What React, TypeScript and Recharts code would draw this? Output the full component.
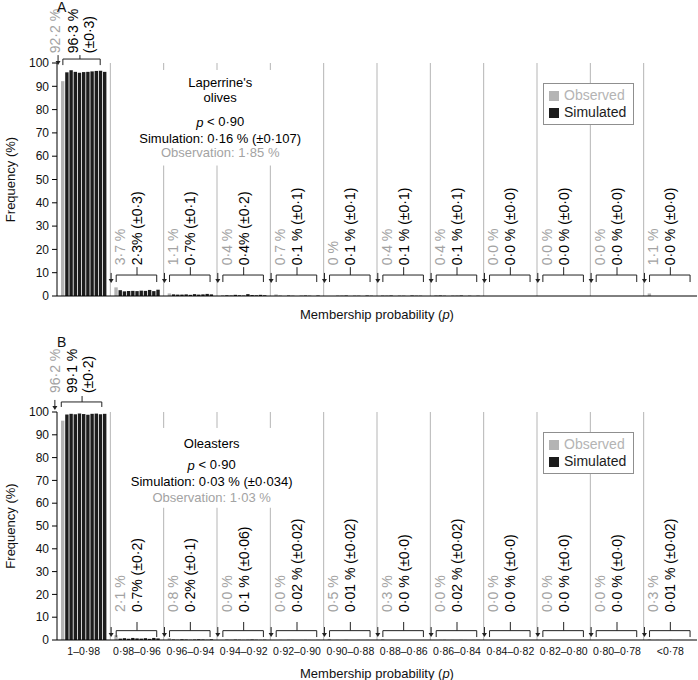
import React from "react";
import {
  Bar,
  BarChart,
  Legend,
  ReferenceDot,
  ReferenceLine,
  XAxis,
  YAxis,
} from "recharts";

const FONT = '"Liberation Sans", Arial, Helvetica, sans-serif';
const OBS_BAR = "#b4b4b4";
const OBS_TEXT = "#a3a3a3";
const SIM_BAR = "#1c1c1c";
const RULE = "#b5b5b5";
const INK = "#222";

const GROUPS = [
  "1–0·98",
  "0·98–0·96",
  "0·96–0·94",
  "0·94–0·92",
  "0·92–0·90",
  "0·90–0·88",
  "0·88–0·86",
  "0·86–0·84",
  "0·84–0·82",
  "0·82–0·80",
  "0·80–0·78",
  "<0·78",
];
const X_TICKS = GROUPS.map((_, i) => i + 0.5);
const Y_TICKS = [0, 10, 20, 30, 40, 50, 60, 70, 80, 90, 100];

// panel A: Laperrine's olives
const A_OBS = [92.2, 3.7, 1.1, 0.4, 0.7, 0, 0.4, 0.4, 0, 0, 0, 1.1];
const A_SIM = [
  [96.0, 96.9, 96.2, 95.8, 96.1, 96.2, 96.4, 96.6, 96.7, 96.2],
  [2.5, 2.0, 2.1, 2.2, 2.1, 2.3, 2.2, 2.6, 2.1, 2.7],
  [0.7, 0.6, 0.6, 0.7, 0.5, 0.8, 0.6, 0.7, 0.9, 0.7],
  [0.3, 0.2, 0.5, 0.3, 0.2, 0.8, 0.4, 0.3, 0.5, 0.3],
  [0.1, 0, 0.2, 0.1, 0, 0.1, 0.2, 0.1, 0, 0.2],
  [0, 0.1, 0.1, 0.2, 0, 0.1, 0.1, 0, 0.2, 0.1],
  [0.1, 0.2, 0, 0.1, 0.1, 0, 0.2, 0.1, 0.1, 0],
  [0.2, 0.1, 0, 0.1, 0.1, 0.2, 0, 0.1, 0, 0.1],
  [0, 0, 0, 0, 0, 0, 0, 0, 0, 0],
  [0, 0, 0, 0, 0, 0, 0, 0, 0, 0],
  [0, 0, 0, 0, 0, 0, 0, 0, 0, 0],
  [0, 0, 0, 0, 0, 0, 0, 0, 0, 0],
];
const A_OBS_LABELS = ["92·2 %", "3·7 %", "1·1 %", "0·4 %", "0·7 %", "0 %", "0·4 %", "0·4 %", "0·0 %", "0·0 %", "0·0 %", "1·1 %"];
const A_SIM_LABELS = ["96·3 %", "2·3%", "0·7%", "0·4%", "0·1 %", "0·1 %", "0·1 %", "0·1 %", "0·0 %", "0·0 %", "0·0 %", "0·0 %"];
const A_SIM_SD = ["(±0·3)", "(±0·3)", "(±0·1)", "(±0·2)", "(±0·1)", "(±0·1)", "(±0·1)", "(±0·1)", "(±0·0)", "(±0·0)", "(±0·0)", "(±0·0)"];

// panel B: oleasters
const B_OBS = [96.2, 2.1, 0.8, 0, 0, 0.5, 0.3, 0, 0, 0, 0, 0.3];
const B_SIM = [
  [98.9, 99.2, 99.0, 99.3, 99.1, 98.8, 99.2, 99.3, 99.0, 99.2],
  [0.6, 0.8, 0.5, 0.9, 0.7, 0.6, 0.8, 0.5, 0.9, 0.7],
  [0.2, 0.1, 0.3, 0.2, 0.1, 0.2, 0.3, 0.2, 0.1, 0.3],
  [0.1, 0.05, 0.15, 0.1, 0.05, 0.1, 0.2, 0.1, 0.05, 0.1],
  [0.02, 0, 0.04, 0.02, 0, 0.02, 0.04, 0.02, 0, 0.04],
  [0, 0.02, 0, 0.04, 0, 0, 0.02, 0, 0.02, 0],
  [0, 0, 0, 0, 0, 0, 0, 0, 0, 0],
  [0.02, 0.04, 0, 0.02, 0, 0.04, 0.02, 0, 0.02, 0.04],
  [0, 0, 0, 0, 0, 0, 0, 0, 0, 0],
  [0, 0, 0, 0, 0, 0, 0, 0, 0, 0],
  [0, 0, 0, 0, 0, 0, 0, 0, 0, 0],
  [0, 0.02, 0, 0, 0.04, 0, 0.02, 0, 0, 0.02],
];
const B_OBS_LABELS = ["96·2 %", "2·1 %", "0·8 %", "0·0 %", "0·0 %", "0·5 %", "0·3 %", "0·0 %", "0·0 %", "0·0 %", "0·0 %", "0·3 %"];
const B_SIM_LABELS = ["99·1 %", "0·7%", "0·2%", "0·1 %", "0·02 %", "0·01 %", "0·0 %", "0·02 %", "0·0 %", "0·0 %", "0·0 %", "0·01 %"];
const B_SIM_SD = ["(±0·2)", "(±0·2)", "(±0·1)", "(±0·06)", "(±0·02)", "(±0·02)", "(±0·0)", "(±0·02)", "(±0·0)", "(±0·0)", "(±0·0)", "(±0·02)"];

const SIM_KEYS = ["s1", "s2", "s3", "s4", "s5", "s6", "s7", "s8", "s9", "s10"];

function rows(obs: number[], sim: number[][]) {
  return obs.map((o, i) => {
    const r: Record<string, number> = { x: i + 0.5, obs: o };
    SIM_KEYS.forEach((k, j) => (r[k] = sim[i][j]));
    return r;
  });
}

// annotation placement, in data units (x: group index, y: %)
type Anno = {
  bracketY: number;
  hookY: number;
  tickY: number;
  textY: number;
  arrowY: number;
  first: {
    bracketY: number;
    hookY: number;
    tickY: number;
    textY: number;
    arrowY: number;
    arrowX: number;
    greyX: number;
    blackX: [number, number];
    l: number;
    r: number;
    mid: number;
  };
  boxX: number;
  box: [number, number];
};

const A_ANNO: Anno = {
  bracketY: 9,
  hookY: 6,
  tickY: 12.4,
  textY: 13.2,
  arrowY: 5.6,
  first: { bracketY: 101.7, hookY: 99.1, tickY: 103.4, textY: 104.2, arrowY: 99.1, arrowX: 0.02, greyX: -0.04, blackX: [0.3, 0.6], l: 0.11, r: 0.81, mid: 0.43 },
  boxX: 3.06,
  box: [56, 97],
};
const B_ANNO: Anno = {
  bracketY: 4.1,
  hookY: 1.3,
  tickY: 7.9,
  textY: 12.3,
  arrowY: 1.3,
  first: { bracketY: 104.4, hookY: 102.2, tickY: 107, textY: 108.3, arrowY: 100.9, arrowX: -0.04, greyX: -0.04, blackX: [0.28, 0.58], l: 0.08, r: 0.84, mid: 0.47 },
  boxX: 2.9,
  box: [58, 93],
};

const upText = (label: string, color: string) => (p: any) => (
  <text
    x={p.cx}
    y={p.cy}
    transform={`rotate(-90 ${p.cx} ${p.cy})`}
    textAnchor="start"
    dominantBaseline="central"
    fontSize={14}
    fontFamily={FONT}
    fill={color}
  >
    {label}
  </text>
);

const arrowShape = (p: any) => (
  <g>
    <line x1={p.cx} x2={p.cx} y1={p.cy - 10} y2={p.cy - 3} stroke={INK} strokeWidth={1} />
    <path d={`M${p.cx - 2.5},${p.cy - 4}L${p.cx + 2.5},${p.cy - 4}L${p.cx},${p.cy}Z`} fill={INK} />
  </g>
);

const centred = (content: React.ReactNode, color: string) => (p: any) => (
  <text x={p.cx} y={p.cy} textAnchor="middle" dominantBaseline="central" fontSize={13} fontFamily={FONT} fill={color}>
    {content}
  </text>
);

function seg(key: string, a: [number, number], b: [number, number], stroke = INK) {
  return (
    <ReferenceLine
      key={key}
      segment={[{ x: a[0], y: a[1] }, { x: b[0], y: b[1] }]}
      stroke={stroke}
      strokeWidth={1}
      ifOverflow="visible"
    />
  );
}

function bracket(key: string, l: number, r: number, mid: number, y: number, hook: number, top: number) {
  return [
    seg(`${key}-h`, [l, y], [r, y]),
    seg(`${key}-l`, [l, y], [l, hook]),
    seg(`${key}-r`, [r, y], [r, hook]),
    seg(`${key}-m`, [mid, y], [mid, top]),
  ];
}

function dot(key: string, x: number, y: number, shape: any) {
  return <ReferenceDot key={key} x={x} y={y} r={0} ifOverflow="visible" shape={shape} />;
}

function LegendBox({ payload }: any) {
  const items = (payload ?? []).filter((e: any) => e.type !== "none");
  return (
    <div
      style={{
        border: "1px solid #8f8f8f",
        background: "#fff",
        padding: "3px 7px 3px 5px",
        fontFamily: FONT,
        fontSize: 14,
        lineHeight: "17px",
        whiteSpace: "nowrap",
      }}
    >
      {items.map((e: any) => (
        <div key={e.value} style={{ display: "flex", alignItems: "center", color: e.color }}>
          <span style={{ width: 10, height: 10, background: e.color, marginRight: 5, display: "inline-block" }} />
          {e.value}
        </div>
      ))}
    </div>
  );
}

const xTitle = (dy: number) => (props: any) => {
  const vb = props.viewBox ?? {};
  return (
    <text x={vb.x + vb.width / 2} y={vb.y + dy} textAnchor="middle" dominantBaseline="central" fontSize={13} fontFamily={FONT} fill="#111">
      Membership probability (<tspan fontStyle="italic">p</tspan>)
    </text>
  );
};

type PanelProps = {
  obs: number[];
  sim: number[][];
  obsLabels: string[];
  simLabels: string[];
  simSd: string[];
  anno: Anno;
  centre: { text: React.ReactNode; y: number; grey?: boolean }[];
  height: number;
  top: number;
  bottom: number;
  showTicks: boolean;
  titleDy: number;
  legendTop: number;
};

function Panel(p: PanelProps) {
  const a = p.anno;
  const f = a.first;
  const data = rows(p.obs, p.sim);
  const extras: React.ReactNode[] = [];

  // group separators, interrupted behind the centred caption
  for (let k = 1; k < GROUPS.length; k++) {
    if (k >= 2 && k <= 4) {
      extras.push(seg(`sep${k}a`, [k, 0], [k, a.box[0]], RULE));
      extras.push(seg(`sep${k}b`, [k, a.box[1]], [k, 100], RULE));
    } else {
      extras.push(seg(`sep${k}`, [k, 0], [k, 100], RULE));
    }
  }

  GROUPS.forEach((_, i) => {
    if (i === 0) {
      extras.push(...bracket("br0", f.l, f.r, f.mid, f.bracketY, f.hookY, f.tickY));
      extras.push(dot("ar0", f.arrowX, f.arrowY, arrowShape));
      extras.push(dot("og0", f.greyX, f.textY, upText(p.obsLabels[0], OBS_TEXT)));
      extras.push(dot("sm0", f.blackX[0], f.textY, upText(p.simLabels[0], "#000")));
      extras.push(dot("sd0", f.blackX[1], f.textY, upText(p.simSd[0], "#000")));
    } else {
      extras.push(...bracket(`br${i}`, i + 0.11, i + 0.87, i + 0.5, a.bracketY, a.hookY, a.tickY));
      extras.push(dot(`ar${i}`, i + 0.015, a.arrowY, arrowShape));
      extras.push(dot(`og${i}`, i + 0.18, a.textY, upText(p.obsLabels[i], OBS_TEXT)));
      extras.push(dot(`sm${i}`, i + 0.5, a.textY, upText(`${p.simLabels[i]} ${p.simSd[i]}`, "#000")));
    }
  });

  p.centre.forEach((c, j) => extras.push(dot(`c${j}`, a.boxX, c.y, centred(c.text, c.grey ? OBS_TEXT : "#000"))));

  return (
    <BarChart
      width={698}
      height={p.height}
      data={data}
      barGap={0.8}
      margin={{ top: p.top, right: 1, left: 0, bottom: 0 }}
    >
      <XAxis
        type="number"
        dataKey="x"
        domain={[0, 12]}
        ticks={X_TICKS}
        interval={0}
        tickFormatter={(v: number) => GROUPS[Math.floor(v)]}
        tick={p.showTicks ? { fontSize: 10.5, fill: "#111", fontFamily: FONT } : false}
        tickLine={false}
        axisLine={{ stroke: "#000" }}
        height={p.bottom}
        label={{ content: xTitle(p.titleDy) }}
      />
      <YAxis
        domain={[0, 100]}
        ticks={Y_TICKS}
        interval={0}
        width={57}
        tickSize={5}
        tickMargin={3}
        tick={{ fontSize: 12, fill: "#111", fontFamily: FONT }}
        axisLine={{ stroke: "#000" }}
        tickLine={{ stroke: "#000" }}
        label={{
          value: "Frequency (%)",
          angle: -90,
          position: "insideLeft",
          offset: 10,
          style: { textAnchor: "middle", fontSize: 13, fontFamily: FONT, fill: "#111" },
        }}
      />
      <Legend
        content={LegendBox}
        layout="vertical"
        align="center"
        verticalAlign="middle"
        wrapperStyle={{ left: 543, top: p.legendTop, width: "auto" }}
      />
      <Bar dataKey="obs" name="Observed" fill={OBS_BAR} barSize={3.4} isAnimationActive={false} legendType="square" />
      {SIM_KEYS.map((k, j) => (
        <Bar
          key={k}
          dataKey={k}
          name="Simulated"
          fill={SIM_BAR}
          barSize={3.4}
          isAnimationActive={false}
          legendType={j === 0 ? "square" : "none"}
        />
      ))}
      {extras}
    </BarChart>
  );
}

const letter: React.CSSProperties = {
  position: "absolute",
  fontFamily: FONT,
  fontSize: 14,
  color: "#111",
  lineHeight: "14px",
};

export default function App() {
  return (
    <div style={{ position: "absolute", left: 0, top: 0, width: 698, height: 680, background: "#fff" }}>
      <div style={{ position: "absolute", left: 0, top: 0 }}>
        <Panel
          obs={A_OBS}
          sim={A_SIM}
          obsLabels={A_OBS_LABELS}
          simLabels={A_SIM_LABELS}
          simSd={A_SIM_SD}
          anno={A_ANNO}
          centre={[
            { text: "Laperrine's", y: 91.8 },
            { text: "olives", y: 85.4 },
            { text: <><tspan fontStyle="italic">p</tspan> {"< 0·90"}</>, y: 74.7 },
            { text: "Simulation: 0·16 % (±0·107)", y: 67.8 },
            { text: "Observation: 1·85 %", y: 61.4, grey: true },
          ]}
          height={330}
          top={63}
          bottom={34}
          showTicks={false}
          titleDy={18}
          legendTop={83}
        />
      </div>
      <div style={{ position: "absolute", left: 0, top: 330 }}>
        <Panel
          obs={B_OBS}
          sim={B_SIM}
          obsLabels={B_OBS_LABELS}
          simLabels={B_SIM_LABELS}
          simSd={B_SIM_SD}
          anno={B_ANNO}
          centre={[
            { text: "Oleasters", y: 86.4 },
            { text: <><tspan fontStyle="italic">p</tspan> {"< 0·90"}</>, y: 76.8 },
            { text: "Simulation: 0·03 % (±0·034)", y: 69.7 },
            { text: "Observation: 1·03 %", y: 62.7, grey: true },
          ]}
          height={350}
          top={82}
          bottom={40}
          showTicks={true}
          titleDy={33}
          legendTop={102}
        />
      </div>
      <div style={{ ...letter, left: 57, top: 0 }}>A</div>
      <div style={{ ...letter, left: 57, top: 335 }}>B</div>
    </div>
  );
}
